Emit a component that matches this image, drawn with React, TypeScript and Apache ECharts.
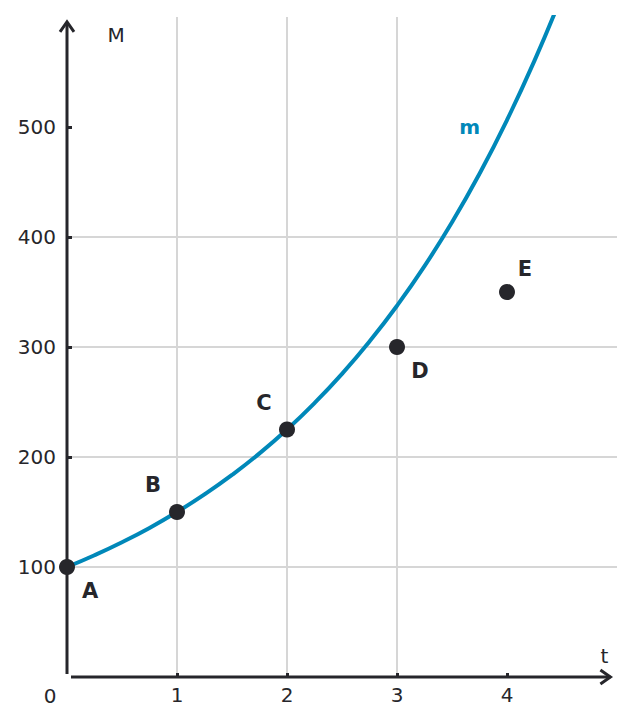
import React, { useEffect, useRef } from 'react'
import * as echarts from 'echarts'

// curve m
const curveT = [0, 0.25, 0.5, 0.75, 1, 1.25, 1.5, 1.75, 2, 2.25, 2.5, 2.75, 3, 3.25, 3.5, 3.75, 4, 4.25, 4.5]
const curveM = [100, 110.7, 122.5, 135.5, 150, 166, 183.7, 203.3, 225, 249, 275.6, 305, 337.5, 373.5, 413.4, 457.5, 506.3, 560.3, 620]

// points A..E
const pointNames = ['A', 'B', 'C', 'D', 'E']
const pointT = [0, 1, 2, 3, 4]
const pointM = [100, 150, 225, 300, 350]

const xTicks = [1, 2, 3, 4]
const yTicks = [100, 200, 300, 400, 500]

const FONT = '"DejaVu Sans", sans-serif'
const DARK = '#26262b'
const BLUE = '#0088b9'

// where each letter sits relative to its dot
const labelOffsets: Record<string, number[]> = {
  A: [23, 24],
  B: [-24, -27],
  C: [-23, -27],
  D: [23, 24],
  E: [18, -23],
}

const App: React.FC = () => {
  const chartRef = useRef<HTMLDivElement>(null)

  useEffect(() => {
    document.body.style.margin = '0'
    if (!chartRef.current) return
    const chart = echarts.init(chartRef.current, null, { renderer: 'svg' })

    chart.setOption({
      animation: false,
      grid: { left: 67, right: 17, top: 17, bottom: 48 },
      xAxis: {
        type: 'value',
        min: 0,
        max: 5,
        interval: 1,
        axisLine: { show: false },
        axisTick: {
          show: true,
          inside: true,
          length: 4,
          customValues: xTicks,
          lineStyle: { color: DARK, width: 3 },
        },
        axisLabel: {
          customValues: xTicks,
          margin: 8,
          fontSize: 20,
          fontFamily: FONT,
          color: DARK,
        },
        splitLine: {
          show: true,
          showMaxLine: false,
          lineStyle: { color: '#d6d6d6', width: 2 },
        },
      },
      yAxis: {
        type: 'value',
        min: 0,
        max: 600,
        interval: 100,
        axisLine: { show: false },
        axisTick: {
          show: true,
          inside: true,
          length: 5,
          customValues: yTicks,
          lineStyle: { color: DARK, width: 3 },
        },
        axisLabel: {
          customValues: yTicks,
          margin: 11,
          fontSize: 20,
          fontFamily: FONT,
          color: DARK,
        },
        splitLine: {
          show: true,
          showMaxLine: false,
          lineStyle: { color: '#d6d6d6', width: 2 },
        },
      },
      series: [
        {
          name: 'm',
          type: 'line',
          smooth: true,
          showSymbol: false,
          clip: true,
          data: curveT.map((t, i) => [t, curveM[i]]),
          lineStyle: { color: BLUE, width: 4 },
          z: 3,
        },
        {
          name: 'points',
          type: 'scatter',
          symbolSize: 16,
          itemStyle: { color: DARK, opacity: 1 },
          data: pointNames.map((n, i) => ({
            name: n,
            value: [pointT[i], pointM[i]],
            label: { offset: labelOffsets[n] },
          })),
          label: {
            show: true,
            position: 'inside',
            formatter: '{b}',
            fontSize: 21,
            fontWeight: 'bold',
            fontFamily: FONT,
            color: DARK,
          },
          z: 5,
        },
      ],
    })

    // axes with open arrowheads, axis names and the origin label
    const o = chart.convertToPixel({ gridIndex: 0 }, [0, 0]) as number[]
    const xEnd = chart.convertToPixel({ gridIndex: 0 }, [4.94, 0]) as number[]
    const yEnd = chart.convertToPixel({ gridIndex: 0 }, [0, 595.5]) as number[]
    const mPos = chart.convertToPixel({ gridIndex: 0 }, [3.66, 500]) as number[]
    const axisStyle = { stroke: DARK, lineWidth: 3, fill: 'none' }

    chart.setOption({
      graphic: [
        {
          type: 'polyline',
          shape: { points: [[o[0] + 4, o[1]], [xEnd[0], xEnd[1]]] },
          style: axisStyle,
          z: 10,
        },
        {
          type: 'polyline',
          shape: { points: [[xEnd[0] - 10, xEnd[1] - 7], [xEnd[0], xEnd[1]], [xEnd[0] - 10, xEnd[1] + 7]] },
          style: axisStyle,
          z: 10,
        },
        {
          type: 'polyline',
          shape: { points: [[o[0], o[1] - 3], [yEnd[0], yEnd[1]]] },
          style: axisStyle,
          z: 10,
        },
        {
          type: 'polyline',
          shape: { points: [[yEnd[0] - 7, yEnd[1] + 10], [yEnd[0], yEnd[1]], [yEnd[0] + 7, yEnd[1] + 10]] },
          style: axisStyle,
          z: 10,
        },
        {
          type: 'text',
          x: o[0] + 49,
          y: yEnd[1] + 13,
          style: { text: 'M', fontSize: 20, fontFamily: FONT, fill: DARK, align: 'center', verticalAlign: 'middle' },
          z: 10,
        },
        {
          type: 'text',
          x: xEnd[0] - 6,
          y: o[1] - 21,
          style: { text: 't', fontSize: 20, fontFamily: FONT, fill: DARK, align: 'center', verticalAlign: 'middle' },
          z: 10,
        },
        {
          type: 'text',
          x: o[0] - 17,
          y: o[1] + 19,
          style: { text: '0', fontSize: 20, fontFamily: FONT, fill: DARK, align: 'center', verticalAlign: 'middle' },
          z: 10,
        },
        {
          type: 'text',
          x: mPos[0],
          y: mPos[1],
          style: { text: 'm', fontSize: 20, fontWeight: 'bold', fontFamily: FONT, fill: BLUE, align: 'center', verticalAlign: 'middle' },
          z: 10,
        },
      ],
    })

    return () => {
      chart.dispose()
    }
  }, [])

  return <div ref={chartRef} style={{ width: 634, height: 725 }} />
}

export default App
